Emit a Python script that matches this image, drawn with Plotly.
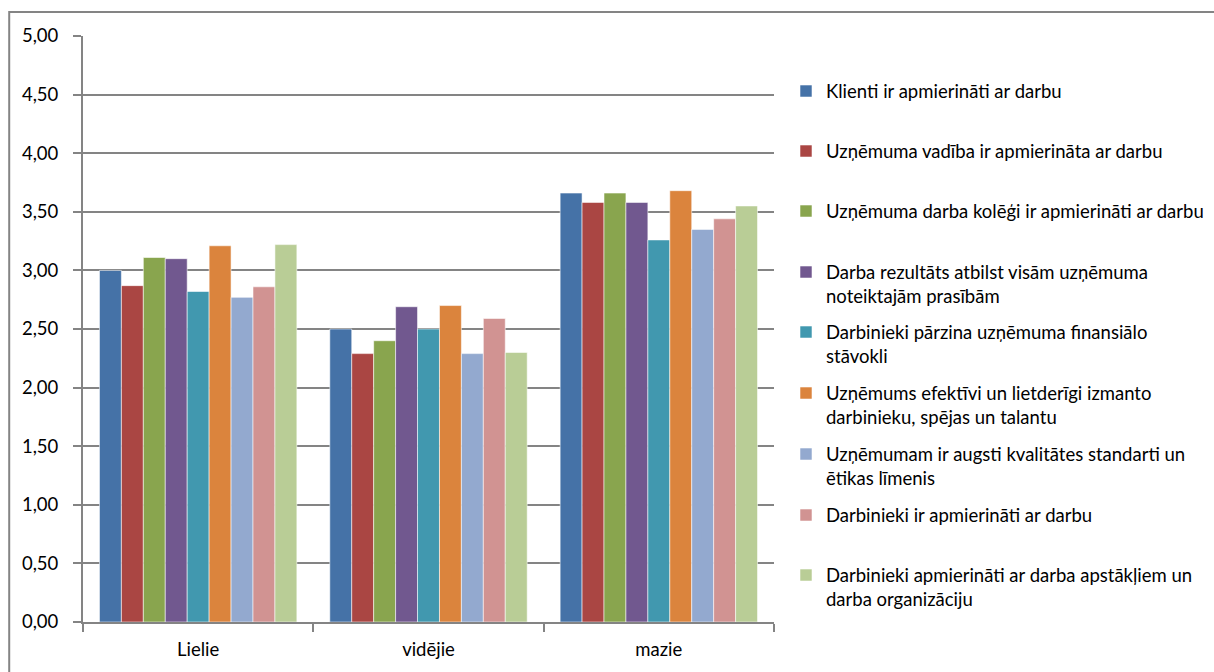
import plotly.graph_objects as go

# Company size groups on the category axis
categories = ["Lielie", "vidējie", "mazie"]

# Survey statements (legend entries); <br> marks the wrapped lines
series_names = [
    "Klienti ir apmierināti ar darbu",
    "Uzņēmuma vadība ir apmierināta ar darbu",
    "Uzņēmuma darba kolēģi ir apmierināti ar darbu",
    "Darba rezultāts atbilst visām uzņēmuma<br>noteiktajām prasībām",
    "Darbinieki pārzina uzņēmuma finansiālo<br>stāvokli",
    "Uzņēmums efektīvi un lietderīgi izmanto<br>darbinieku, spējas un talantu",
    "Uzņēmumam ir augsti kvalitātes standarti un<br>ētikas līmenis",
    "Darbinieki ir apmierināti ar darbu",
    "Darbinieki apmierināti ar darba apstākļiem un<br>darba organizāciju",
]

# Average scores per statement for Lielie / vidējie / mazie
klienti = [3.00, 2.50, 3.66]
vadiba = [2.87, 2.29, 3.58]
kolegi = [3.11, 2.40, 3.66]
rezultats = [3.10, 2.69, 3.58]
finanses = [2.82, 2.50, 3.26]
talanti = [3.21, 2.70, 3.68]
standarti = [2.77, 2.29, 3.35]
darbinieki = [2.86, 2.59, 3.44]
apstakli = [3.22, 2.30, 3.55]

series_values = [klienti, vadiba, kolegi, rezultats, finanses,
                 talanti, standarti, darbinieki, apstakli]

colors = ["#4572A7", "#AA4643", "#89A54E", "#71588F", "#4198AF",
          "#DB843D", "#93A9CF", "#D19392", "#B9CD96"]

y_ticks = [0, 0.5, 1, 1.5, 2, 2.5, 3, 3.5, 4, 4.5, 5]

FONT = "Lato, Carlito, Calibri, sans-serif"
FS = 18.5
GRAY = "#848484"
W, H = 1214, 672

# Pixel row of each legend entry's first line
legend_rows = [92, 152, 212, 273, 333, 394, 455, 516, 576]

fig = go.Figure()
for i, (name, vals, col) in enumerate(zip(series_names, series_values, colors)):
    lg = "legend" if i == 0 else f"legend{i + 1}"
    fig.add_trace(go.Bar(
        x=categories, y=vals, name=name,
        marker=dict(color=col, line=dict(color="rgba(255,255,255,0.55)", width=1)),
        legend=lg,
    ))

layout_legends = {}
for i, row in enumerate(legend_rows):
    key = "legend" if i == 0 else f"legend{i + 1}"
    layout_legends[key] = dict(
        xref="container", yref="container",
        x=786 / W, y=1 - (row - 19.5) / H,
        xanchor="left", yanchor="top",
        valign="top",
        font=dict(family=FONT, size=FS, color="#000000"),
        bgcolor="rgba(0,0,0,0)", borderwidth=0,
    )

fig.update_layout(
    width=W, height=H,
    margin=dict(l=83, r=W - 776, t=36, b=H - 624.5),
    paper_bgcolor="white", plot_bgcolor="white",
    barmode="group", bargap=0.143, bargroupgap=0,
    separators=", ",
    font=dict(family=FONT, size=FS, color="#000000"),
    showlegend=True,
    **layout_legends,
)

fig.update_yaxes(
    range=[0, 5], tickvals=y_ticks, tickformat=".2f",
    showgrid=True, gridcolor=GRAY, gridwidth=2,
    showline=True, linecolor=GRAY, linewidth=2,
    ticks="outside", ticklen=8, tickwidth=2, tickcolor=GRAY,
    ticklabelstandoff=11,
    zeroline=False, fixedrange=True,
)
fig.update_xaxes(
    showline=True, linecolor=GRAY, linewidth=2,
    ticks="outside", tickson="boundaries", ticklen=8, tickwidth=2, tickcolor=GRAY,
    ticklabelstandoff=10,
    showgrid=False, fixedrange=True,
)

# Outer chart frame (open on the right and bottom edges)
x0 = (9 - 83) / 693
y1 = (624.5 - 12) / 588.5
fig.add_shape(type="rect", xref="paper", yref="paper",
              x0=x0, x1=(1240 - 83) / 693, y0=(624.5 - 700) / 588.5, y1=y1,
              line=dict(color=GRAY, width=2), fillcolor="rgba(0,0,0,0)", layer="below")

fig.write_html("out.html")
